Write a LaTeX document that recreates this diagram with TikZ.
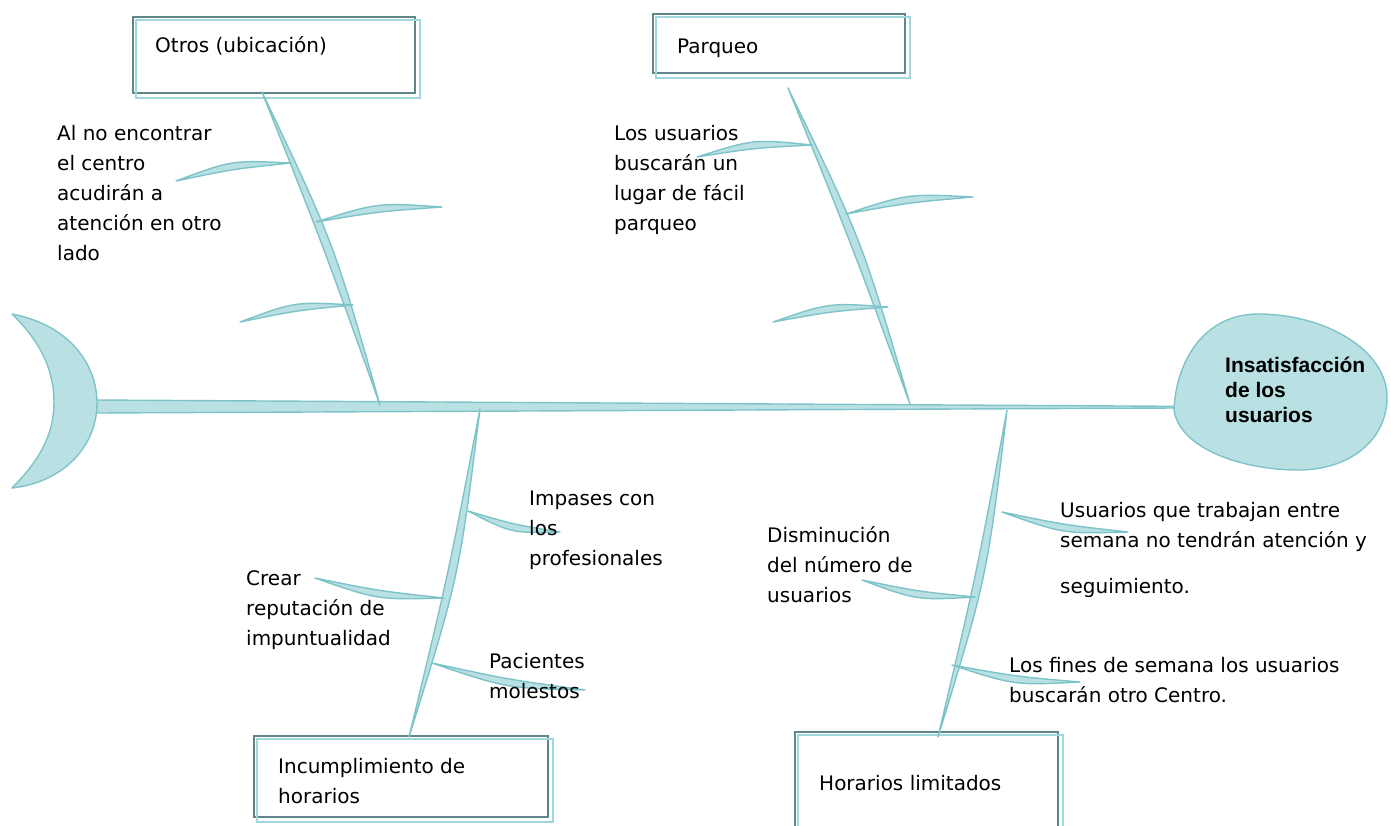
\documentclass[tikz,border=0pt]{standalone}
\usepackage{fontspec}
\setmainfont{DejaVu Sans}
\newfontfamily\headfont{Liberation Sans}
\usetikzlibrary{calc}
\definecolor{bonefill}{RGB}{185,225,228}
\definecolor{boneline}{RGB}{125,195,200}
\definecolor{boxdark}{RGB}{95,135,138}
\definecolor{boxteal}{RGB}{160,215,220}
\tikzset{
  bone/.style={fill=bonefill, draw=boneline, line width=1.4pt, line join=round},
  lbl/.style={inner sep=0pt, anchor=base west, align=left, font=\fontsize{20}{30}\selectfont},
  catbox/.style={draw=boxdark, line width=1.8pt, fill=white, inner sep=0pt},
  tealframe/.style={draw=boxteal, line width=2.4pt},
}
\newcommand\lens[4]{\filldraw[bone] (#1) .. controls ($(#1)!0.5!(#2)!#3pt!90:(#2)$) .. (#2) .. controls ($(#1)!0.5!(#2)!#4pt!90:(#2)$) .. (#1) -- cycle;}
\begin{document}
\begin{tikzpicture}[x=1pt,y=-1pt]
\useasboundingbox (0,0) rectangle (1391,825);
% category boxes
\node[catbox, minimum width=282pt, minimum height=76pt] (box1) at (274,55) {};
\draw[tealframe] ($(box1.north west)+(4,4)$) rectangle ($(box1.south east)+(4,4)$);
\node[catbox, minimum width=252pt, minimum height=59pt] (box2) at (779,43.5) {};
\draw[tealframe] ($(box2.north west)+(4,4)$) rectangle ($(box2.south east)+(4,4)$);
\node[catbox, minimum width=294pt, minimum height=81pt] (box3) at (401,776.5) {};
\draw[tealframe] ($(box3.north west)+(4,4)$) rectangle ($(box3.south east)+(4,4)$);
\node[catbox, minimum width=263pt, minimum height=108pt] (box4) at (926.5,786) {};
\draw[tealframe] ($(box4.north west)+(4,4)$) rectangle ($(box4.south east)+(4,4)$);
% spine
\coordinate (tailj) at (95,406.5);
\coordinate (headj) at (1175,407.2);
\filldraw[bone] ($(tailj)+(0,-6.5)$) -- ($(headj)+(0,-0.9)$) -- ($(headj)+(0,0.8)$) -- ($(tailj)+(0,6.5)$) -- cycle;
% tail
\filldraw[bone] (12,314) .. controls (70,325) and (97,365) .. (97,403) .. controls (97,445) and (65,482) .. (12,488) .. controls (42,458) and (54,432) .. (54,402) .. controls (54,372) and (42,343) .. (12,314) -- cycle;
% head
\filldraw[bone] (1174,410) .. controls (1176,360) and (1205,314) .. (1258,314) .. controls (1325,314) and (1387,350) .. (1387,397) .. controls (1387,440) and (1350,470) .. (1298,470) .. controls (1245,470) and (1180,450) .. (1174,410) -- cycle;
\node[inner sep=0pt, anchor=base west, align=left, font=\headfont\bfseries\fontsize{21}{25}\selectfont] (head) at (1225,422) {Insatisfacción\\de los\\usuarios};
% main bones
\coordinate (ul0) at (262,92);   \coordinate (ul1) at (380,405);
\coordinate (ur0) at (788,88);   \coordinate (ur1) at (910,404);
\coordinate (ll0) at (480,409);  \coordinate (ll1) at (409,737);
\coordinate (lr0) at (1007,410); \coordinate (lr1) at (938,737);
\lens{ul0}{ul1}{14}{3}
\lens{ur0}{ur1}{14}{3}
\lens{ll0}{ll1}{15}{4}
\lens{lr0}{lr1}{15}{4}
% ribs
\coordinate (a1) at (291,163); \coordinate (a1t) at (176,181);
\coordinate (a2) at (316,222); \coordinate (a2t) at (442,207);
\coordinate (a3) at (353,305); \coordinate (a3t) at (240,322);
\coordinate (b1) at (812,145); \coordinate (b1t) at (697,157);
\coordinate (b2) at (846,214); \coordinate (b2t) at (973,197);
\coordinate (b3) at (888,307); \coordinate (b3t) at (773,322);
\coordinate (c1) at (468,511); \coordinate (c1t) at (560,532);
\coordinate (c2) at (444,598); \coordinate (c2t) at (315,578);
\coordinate (c3) at (432,663); \coordinate (c3t) at (585,690);
\coordinate (d1) at (1002,512); \coordinate (d1t) at (1128,532);
\coordinate (d2) at (975,597); \coordinate (d2t) at (862,580);
\coordinate (d3) at (952,665); \coordinate (d3t) at (1080,682);
\lens{a1}{a1t}{-12}{-3}
\lens{a2}{a2t}{12}{3}
\lens{a3}{a3t}{-12}{-3}
\lens{b1}{b1t}{-12}{-3}
\lens{b2}{b2t}{12}{3}
\lens{b3}{b3t}{-12}{-3}
\lens{c1}{c1t}{-12}{-3}
\lens{c2}{c2t}{12}{3}
\lens{c3}{c3t}{-12}{-3}
\lens{d1}{d1t}{-12}{-3}
\lens{d2}{d2t}{12}{3}
\lens{d3}{d3t}{-12}{-3}
% labels (base anchor = baseline of the last line)
\node[lbl] (l1) at (155,52) {Otros (ubicación)};
\node[lbl] (l2) at (677,53) {Parqueo};
\node[lbl] (l3) at (278,803) {Incumplimiento de\\horarios};
\node[lbl] (l4) at (819,790) {Horarios limitados};
\node[lbl] (t1) at (57,260.5) {Al no encontrar\\el centro\\acudirán a\\atención en otro\\lado};
\node[lbl] (t2) at (614,230.5) {Los usuarios\\buscarán un\\lugar de fácil\\parqueo};
\node[lbl] (t3) at (529,565.5) {Impases con\\los\\profesionales};
\node[lbl] (t4) at (246,645.5) {Crear\\reputación de\\impuntualidad};
\node[lbl] (t5) at (489,698.5) {Pacientes\\molestos};
\node[lbl] (t6) at (767,602.5) {Disminución\\del número de\\usuarios};
\node[lbl] (t7) at (1060,593) {Usuarios que trabajan entre\\semana no tendrán atención y\\[16pt]seguimiento.};
\node[lbl] (t8) at (1009,702) {Los fines de semana los usuarios\\buscarán otro Centro.};
\end{tikzpicture}
\end{document}
